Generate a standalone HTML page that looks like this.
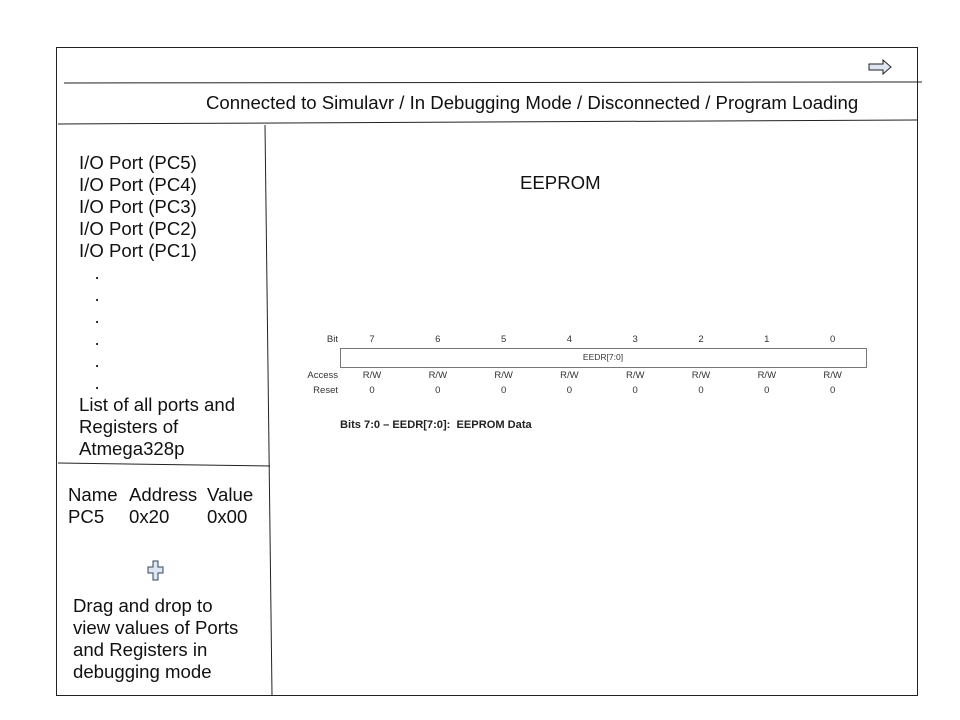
<!DOCTYPE html>
<html><head><meta charset="utf-8"><style>
body{margin:0;background:#fff;width:960px;height:720px;position:relative;overflow:hidden;font-family:"Liberation Sans",sans-serif;color:#111}
.t{position:absolute;font-size:18.6px;white-space:nowrap;line-height:22px}
.s{position:absolute;font-size:9.5px;color:#333;white-space:nowrap}
.c{transform:translateX(-50%)}
</style></head><body>
<svg width="960" height="720" style="position:absolute;left:0;top:0">
<rect x="56.5" y="47.5" width="861" height="648" fill="none" stroke="#222" stroke-width="1"/>
<line x1="64" y1="83" x2="922" y2="82" stroke="#222"/>
<line x1="58" y1="124" x2="917" y2="120" stroke="#222"/>
<line x1="265" y1="125" x2="272" y2="695" stroke="#222"/>
<line x1="58" y1="463" x2="270" y2="466" stroke="#222"/>
<path d="M869 64h14v-4l8 7-8 7v-4h-14z" fill="#dde6f2" stroke="#222" stroke-width="1"/>
<path d="M153 561h5v6h5v6h-5v7h-5v-7h-5v-6h5z" fill="#dde6f2" stroke="#345" stroke-width="1"/>
<rect x="340.5" y="348.5" width="526" height="19" fill="#fff" stroke="#777"/>
</svg>
<div class="t" style="left:206px;top:92px">Connected to Simulavr / In Debugging Mode / Disconnected / Program Loading</div>
<div class="t" style="left:79px;top:152px">I/O Port (PC5)<br>I/O Port (PC4)<br>I/O Port (PC3)<br>I/O Port (PC2)<br>I/O Port (PC1)<br>&nbsp;&nbsp;&nbsp;.<br>&nbsp;&nbsp;&nbsp;.<br>&nbsp;&nbsp;&nbsp;.<br>&nbsp;&nbsp;&nbsp;.<br>&nbsp;&nbsp;&nbsp;.<br>&nbsp;&nbsp;&nbsp;.<br>List of all ports and<br>Registers of<br>Atmega328p</div>
<div class="t" style="left:68px;top:484px">Name</div>
<div class="t" style="left:129px;top:484px">Address</div>
<div class="t" style="left:207px;top:484px">Value</div>
<div class="t" style="left:68px;top:506px">PC5</div>
<div class="t" style="left:129px;top:506px">0x20</div>
<div class="t" style="left:207px;top:506px">0x00</div>
<div class="t" style="left:73px;top:595px">Drag and drop to<br>view values of Ports<br>and Registers in<br>debugging mode</div>
<div class="t" style="left:520px;top:172px">EEPROM</div>
<div class="s" style="left:300px;top:334px;width:38px;text-align:right">Bit</div>
<div class="s" style="left:290px;top:370px;width:48px;text-align:right">Access</div>
<div class="s" style="left:290px;top:385px;width:48px;text-align:right">Reset</div>
<div class="s c" style="left:603px;top:352px;font-size:8.5px">EEDR[7:0]</div>
<div id="bits"></div>
<div class="s" style="left:340px;top:419px;font-size:11.1px;font-weight:bold;color:#222">Bits 7:0 – EEDR[7:0]:&nbsp; EEPROM Data</div>
<script>
const bitNums=["7","6","5","4","3","2","1","0"];
const access=["R/W","R/W","R/W","R/W","R/W","R/W","R/W","R/W"];
const reset=["0","0","0","0","0","0","0","0"];
const host=document.getElementById('bits');
bitNums.forEach((b,i)=>{
  const x=372+i*65.8;
  [[b,334,'bit-number'],[access[i],370,'access-value'],[reset[i],385,'reset-value']].forEach(([txt,y,nm])=>{
    const d=document.createElement('div');
    d.className='s c';d.style.left=x+'px';d.style.top=y+'px';d.textContent=txt;
    
    
    host.appendChild(d);
  });
});
</script>
</body></html>
